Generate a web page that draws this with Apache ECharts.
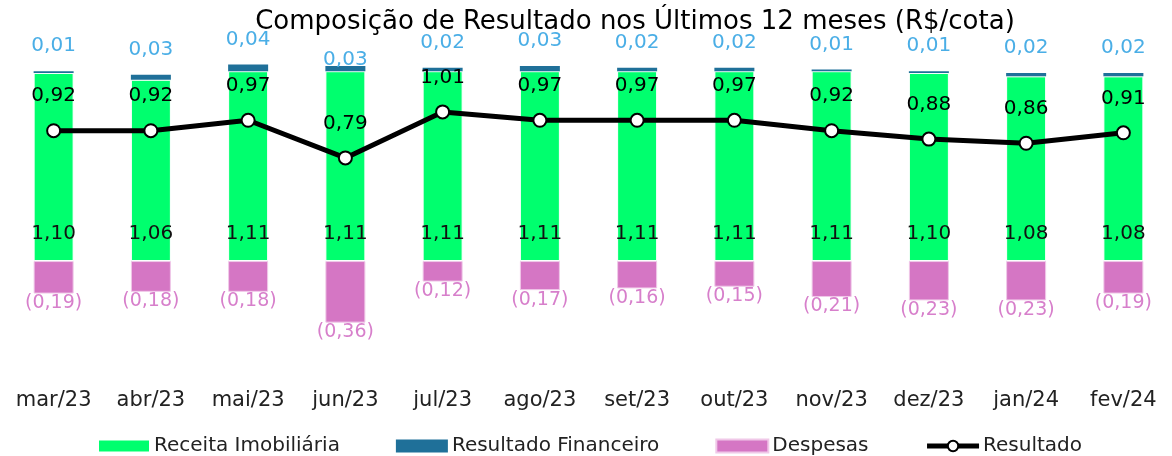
<!DOCTYPE html>
<html lang="pt-BR">

<head>
    <meta charset="UTF-8" />
    <title>Composição de Resultado</title>
    <script src="https://cdn.jsdelivr.net/npm/echarts@6.0.0/dist/echarts.min.js"></script>
</head>

<body style="margin: 0;">
    <div id="main" style="width: 1172px; height: 456px;"></div>

    <script>
        const meses = ['mar/23', 'abr/23', 'mai/23', 'jun/23', 'jul/23', 'ago/23', 'set/23', 'out/23', 'nov/23', 'dez/23', 'jan/24', 'fev/24'];
        const receita = [1.10, 1.06, 1.11, 1.11, 1.11, 1.11, 1.11, 1.11, 1.11, 1.10, 1.08, 1.08];
        const financeiro = [0.01, 0.03, 0.04, 0.03, 0.02, 0.03, 0.02, 0.02, 0.01, 0.01, 0.02, 0.02];
        const despesas = [-0.19, -0.18, -0.18, -0.36, -0.12, -0.17, -0.16, -0.15, -0.21, -0.23, -0.23, -0.19];
        const resultado = [0.92, 0.92, 0.97, 0.79, 1.01, 0.97, 0.97, 0.97, 0.92, 0.88, 0.86, 0.91];

        const fmt = v => Math.abs(v).toFixed(2).replace('.', ',');
        const font = '"DejaVu Sans", sans-serif';

        const myChart = echarts.init(document.getElementById('main'));

        // in the original the jun/23 label sits down on its bar
        const financeiroData = financeiro.map((v, i) =>
            i === 3 ? { value: v, label: { distance: -4 } } : v);

        const option = {
            backgroundColor: '#fff',
            textStyle: { fontFamily: font },
            title: {
                text: 'Composição de Resultado nos Últimos 12 meses (R$/cota)',
                left: 630,
                textAlign: 'center',
                top: 4,
                textStyle: { fontFamily: font, fontSize: 26, fontWeight: 'normal', color: '#000' }
            },
            legend: {
                bottom: -5,
                left: 92,
                itemGap: 56,
                itemWidth: 52,
                itemHeight: 13,
                textStyle: { fontFamily: font, fontSize: 20, color: '#222', padding: [0, 0, 0, -1] },
                data: [
                    { name: 'Receita Imobiliária', icon: 'rect' },
                    { name: 'Resultado Financeiro', icon: 'rect' },
                    { name: 'Despesas', icon: 'rect' },
                    {
                        name: 'Resultado',
                        lineStyle: { color: '#000', width: 5 },
                        itemStyle: { color: '#fff', borderColor: '#000', borderWidth: 2 }
                    }
                ]
            },
            grid: { left: 5, right: -18, top: 30, bottom: 86 },
            xAxis: {
                type: 'category',
                data: meses,
                axisLine: { show: false },
                axisTick: { show: false },
                axisLabel: { interval: 0, fontFamily: font, fontSize: 21, color: '#222', margin: 20 }
            },
            yAxis: [
                { type: 'value', min: -0.637, max: 1.351, show: false },
                { type: 'value', min: -0.225, max: 1.402, show: false }
            ],
            series: [
                {
                    name: 'Receita Imobiliária',
                    type: 'bar',
                    stack: 'total',
                    barWidth: 40,
                    data: receita,
                    itemStyle: { color: '#00ff6e', borderColor: '#fff', borderWidth: 1 },
                    label: {
                        show: true,
                        position: 'insideBottom',
                        distance: 17,
                        formatter: p => fmt(p.value),
                        fontFamily: font,
                        fontSize: 20,
                        color: '#111'
                    }
                },
                {
                    name: 'Resultado Financeiro',
                    type: 'bar',
                    stack: 'total',
                    data: financeiroData,
                    itemStyle: { color: '#1f7099' },
                    label: {
                        show: true,
                        position: 'top',
                        distance: 15,
                        formatter: p => fmt(p.value),
                        fontFamily: font,
                        fontSize: 20,
                        color: '#4aaee6'
                    }
                },
                {
                    name: 'Despesas',
                    type: 'bar',
                    stack: 'total',
                    data: despesas,
                    itemStyle: { color: '#d576c4', borderColor: '#f0c8e8', borderWidth: 1 },
                    label: {
                        show: true,
                        position: 'bottom',
                        distance: 0,
                        formatter: p => '(' + fmt(p.value) + ')',
                        fontFamily: font,
                        fontSize: 19,
                        color: '#d77fcb'
                    }
                },
                {
                    name: 'Resultado',
                    type: 'line',
                    yAxisIndex: 1,
                    data: resultado,
                    symbol: 'circle',
                    symbolSize: 13,
                    lineStyle: { color: '#000', width: 5 },
                    itemStyle: { color: '#fff', borderColor: '#000', borderWidth: 2 },
                    label: {
                        show: true,
                        position: 'top',
                        distance: 17,
                        formatter: p => fmt(p.value),
                        fontFamily: font,
                        fontSize: 20,
                        color: '#000'
                    },
                    z: 5
                }
            ]
        };

        myChart.setOption(option);
    </script>
</body>

</html>
